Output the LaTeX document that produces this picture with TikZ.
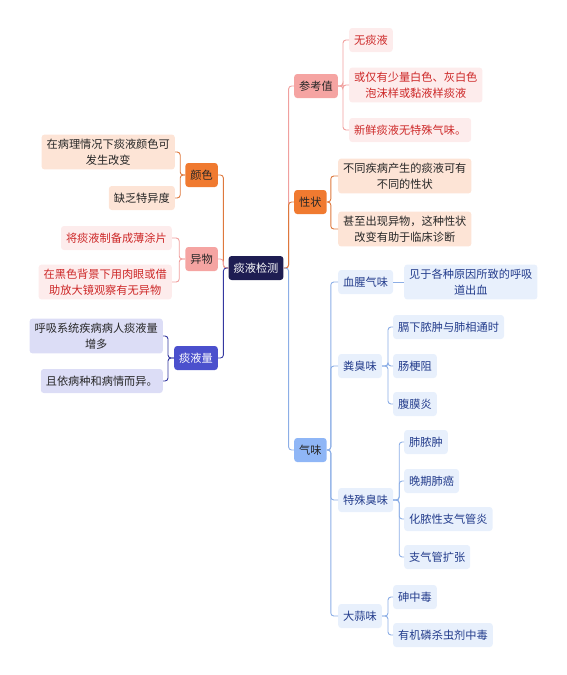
\documentclass[tikz,border=0pt]{standalone}
\usepackage{fontspec}
\newfontfamily\cjk{Noto Sans CJK SC}
\usetikzlibrary{positioning}
\definecolor{rootbg}{RGB}{30,29,82}
\definecolor{salmon}{RGB}{245,164,162}
\definecolor{pinkbg}{RGB}{253,236,236}
\definecolor{pinkline}{RGB}{240,160,158}
\definecolor{redtext}{RGB}{205,40,40}
\definecolor{orangebg}{RGB}{240,122,48}
\definecolor{orangeline}{RGB}{222,120,60}
\definecolor{peachbg}{RGB}{253,228,214}
\definecolor{bluebg}{RGB}{143,182,246}
\definecolor{lightblue}{RGB}{232,240,252}
\definecolor{blueline}{RGB}{140,174,230}
\definecolor{bluetext}{RGB}{35,60,140}
\definecolor{indigobg}{RGB}{75,80,205}
\definecolor{indigoline}{RGB}{52,56,160}
\definecolor{lavender}{RGB}{220,221,246}
\tikzset{
  box/.style={rectangle, rounded corners=3pt, inner xsep=5pt, inner ysep=4.5pt,
    minimum height=24pt, align=center, text=black!85,
    font=\cjk\fontsize{11.2}{15.5}\selectfont},
  rootbox/.style={box, fill=rootbg, text=white},
  pinkmain/.style={box, fill=salmon},
  pinkleaf/.style={box, fill=pinkbg, text=redtext},
  orangemain/.style={box, fill=orangebg},
  peachleaf/.style={box, fill=peachbg},
  bluemain/.style={box, fill=bluebg},
  blueleaf/.style={box, fill=lightblue, text=bluetext},
  indigomain/.style={box, fill=indigobg, text=white},
  lavleaf/.style={box, fill=lavender},
  link/.style={line width=0.9pt, rounded corners=3pt}
}
\begin{document}
\begin{tikzpicture}[x=1pt,y=-1pt]
\useasboundingbox (0,0) rectangle (567,675);

\node[rootbox] (root) at (256,268) {痰液检测};

% right side
\node[pinkmain,anchor=west] (ckz) at (294,86) {参考值};
\node[pinkleaf,anchor=west] (ckz1) at (349,40) {无痰液};
\node[pinkleaf,anchor=west] (ckz2) at (349,85) {或仅有少量白色、灰白色\\泡沫样或黏液样痰液};
\node[pinkleaf,anchor=west] (ckz3) at (349,130) {新鲜痰液无特殊气味。};

\node[orangemain,anchor=west] (xz) at (294,202) {性状};
\node[peachleaf,anchor=west] (xz1) at (338,176) {不同疾病产生的痰液可有\\不同的性状};
\node[peachleaf,anchor=west] (xz2) at (338,229) {甚至出现异物，这种性状\\改变有助于临床诊断};

\node[bluemain,anchor=west] (qw) at (294,450) {气味};
\node[blueleaf,anchor=west] (xx) at (338,282) {血腥气味};
\node[blueleaf,anchor=west] (xx1) at (404,282) {见于各种原因所致的呼吸\\道出血};
\node[blueleaf,anchor=west] (fc) at (338,366) {粪臭味};
\node[blueleaf,anchor=west] (fc1) at (393,327) {膈下脓肿与肺相通时};
\node[blueleaf,anchor=west] (fc2) at (393,366) {肠梗阻};
\node[blueleaf,anchor=west] (fc3) at (393,404) {腹膜炎};
\node[blueleaf,anchor=west] (ts) at (338,500) {特殊臭味};
\node[blueleaf,anchor=west] (ts1) at (404,442) {肺脓肿};
\node[blueleaf,anchor=west] (ts2) at (404,481) {晚期肺癌};
\node[blueleaf,anchor=west] (ts3) at (404,519) {化脓性支气管炎};
\node[blueleaf,anchor=west] (ts4) at (404,557) {支气管扩张};
\node[blueleaf,anchor=west] (ds) at (338,616) {大蒜味};
\node[blueleaf,anchor=west] (ds1) at (393,597) {砷中毒};
\node[blueleaf,anchor=west] (ds2) at (393,635) {有机磷杀虫剂中毒};

% left side
\node[orangemain,anchor=east] (ys) at (218,175) {颜色};
\node[peachleaf,anchor=east] (ys1) at (175,152) {在病理情况下痰液颜色可\\发生改变};
\node[peachleaf,anchor=east] (ys2) at (175,198) {缺乏特异度};
\node[pinkmain,anchor=east] (yw) at (218,259) {异物};
\node[pinkleaf,anchor=east] (yw1) at (172,238) {将痰液制备成薄涂片};
\node[pinkleaf,anchor=east] (yw2) at (172,282) {在黑色背景下用肉眼或借\\助放大镜观察有无异物};
\node[indigomain,anchor=east] (tyl) at (218,358) {痰液量};
\node[lavleaf,anchor=east] (tyl1) at (163,336) {呼吸系统疾病病人痰液量\\增多};
\node[lavleaf,anchor=east] (tyl2) at (163,381) {且依病种和病情而异。};

% connectors
\draw[link,pinkline] (root.east) -- ++(5,0) |- (ckz.west);
\draw[link,orangeline] (root.east) -- ++(5,0) |- (xz.west);
\draw[link,blueline] (root.east) -- ++(5,0) |- (qw.west);
\draw[link,orangeline] (root.west) -- ++(-5,0) |- (ys.east);
\draw[link,pinkline] (root.west) -- ++(-5,0) |- (yw.east);
\draw[link,indigoline] (root.west) -- ++(-5,0) |- (tyl.east);

\foreach \c in {ckz1,ckz2,ckz3}
  \draw[link,pinkline] (ckz.east) -- ++(5,0) |- (\c.west);
\foreach \c in {xz1,xz2}
  \draw[link,orangeline] (xz.east) -- ++(4,0) |- (\c.west);
\foreach \c in {xx,fc,ts,ds}
  \draw[link,blueline] (qw.east) -- ++(4,0) |- (\c.west);
\draw[link,blueline] (xx.east) -- (xx1.west);
\foreach \c in {fc1,fc2,fc3}
  \draw[link,blueline] (fc.east) -- ++(6,0) |- (\c.west);
\foreach \c in {ts1,ts2,ts3,ts4}
  \draw[link,blueline] (ts.east) -- ++(6,0) |- (\c.west);
\foreach \c in {ds1,ds2}
  \draw[link,blueline] (ds.east) -- ++(6,0) |- (\c.west);
\foreach \c in {ys1,ys2}
  \draw[link,orangeline] (ys.west) -- ++(-5,0) |- (\c.east);
\foreach \c in {yw1,yw2}
  \draw[link,pinkline] (yw.west) -- ++(-6,0) |- (\c.east);
\foreach \c in {tyl1,tyl2}
  \draw[link,indigoline] (tyl.west) -- ++(-6,0) |- (\c.east);
\end{tikzpicture}
\end{document}
